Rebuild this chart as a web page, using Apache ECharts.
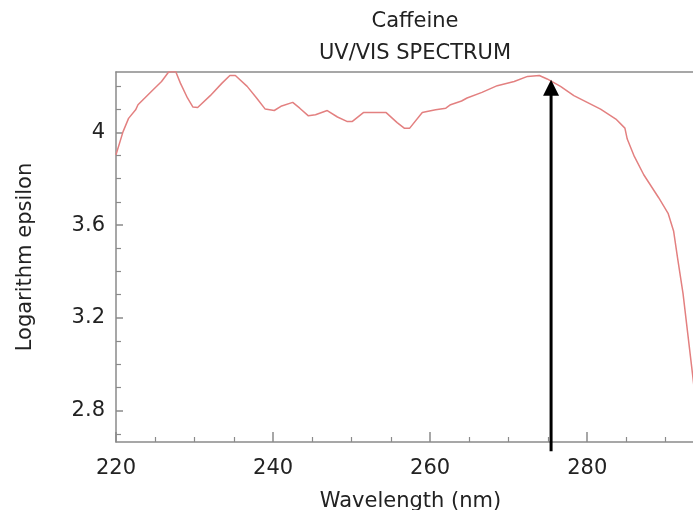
<!DOCTYPE html>
<html><head><meta charset="utf-8">
<script src="https://cdn.jsdelivr.net/npm/echarts@6/dist/echarts.min.js"></script>
<style>html,body{margin:0;padding:0;background:#fff}#c{width:693px;height:510px}</style>
</head><body><div id="c"></div>
<script>
const wavelength = [220, 220.9, 221.6, 222.5, 222.8, 224.5, 225.8, 226.7, 227.6, 228.2, 229.1, 229.8, 230.4, 232.0, 233.5, 234.5, 235.2, 236.7, 237.9, 239.0, 240.15, 241.0, 242.5, 243.4, 244.5, 245.4, 246.9, 248.2, 249.4, 250.1, 251.5, 254.4, 255.8, 256.7, 257.4, 259.0, 259.6, 260.7, 262.0, 262.6, 264.0, 264.7, 266.6, 268.55, 270.7, 272.4, 273.9, 274.9, 276.6, 278.3, 280.0, 281.7, 283.65, 284.8, 285.1, 286.0, 287.2, 289.1, 290.3, 291.0, 291.5, 292.2, 292.8, 293.3, 293.6, 294.2];
const logEpsilon = [3.903, 4.003, 4.06, 4.097, 4.119, 4.176, 4.219, 4.26, 4.262, 4.212, 4.148, 4.109, 4.107, 4.158, 4.212, 4.245, 4.245, 4.198, 4.148, 4.10, 4.094, 4.112, 4.129, 4.104, 4.071, 4.076, 4.094, 4.066, 4.047, 4.047, 4.085, 4.085, 4.042, 4.018, 4.018, 4.085, 4.09, 4.097, 4.104, 4.119, 4.135, 4.148, 4.172, 4.201, 4.219, 4.241, 4.245, 4.23, 4.198, 4.158, 4.129, 4.10, 4.057, 4.018, 3.971, 3.896, 3.817, 3.718, 3.651, 3.575, 3.46, 3.306, 3.133, 2.99, 2.903, 2.72];
const xMajorTicks = [220, 240, 260, 280];
const xMinorTicks = [225, 230, 235, 245, 250, 255, 265, 270, 275, 285, 290];
const yMajorTicks = [2.8, 3.2, 3.6, 4.0];
const yMinorTicks = [2.7, 2.9, 3.0, 3.1, 3.3, 3.4, 3.5, 3.7, 3.8, 3.9, 4.1, 4.2];
const arrowWavelength = 275.4;
const arrowFrom = 2.625;
const arrowTo = 4.227;

const FONT = 'DejaVu Sans';
const AXIS_COLOR = '#8a8a8a';
const TEXT_COLOR = '#222';
const X_MIN = 220, X_MAX = 295, Y_MIN = 2.665, Y_MAX = 4.26;

const chart = echarts.init(document.getElementById('c'), null, {renderer: 'canvas'});
const baseX = {type: 'value', min: X_MIN, max: X_MAX, gridIndex: 0, splitLine: {show: false}};
const baseY = {type: 'value', min: Y_MIN, max: Y_MAX, gridIndex: 0, splitLine: {show: false}};
chart.setOption({
  animation: false,
  backgroundColor: '#fff',
  title: {
    text: 'Caffeine\nUV/VIS SPECTRUM',
    left: 410, top: 1, textAlign: 'center',
    textStyle: {fontFamily: FONT, fontSize: 21, fontWeight: 'normal', color: TEXT_COLOR, lineHeight: 32}
  },
  grid: {left: 116, top: 72, width: 589, height: 370, containLabel: false, outerBoundsMode: 'none'},
  xAxis: [
    Object.assign({}, baseX, {
      position: 'bottom',
      name: 'Wavelength (nm)', nameLocation: 'middle', nameGap: 49,
      nameTextStyle: {fontFamily: FONT, fontSize: 21, color: TEXT_COLOR},
      axisLine: {show: true, onZero: false, lineStyle: {color: AXIS_COLOR, width: 1.5}},
      axisTick: {show: true, inside: true, length: 10, customValues: xMajorTicks, lineStyle: {color: AXIS_COLOR, width: 1.5}},
      axisLabel: {show: true, customValues: xMajorTicks, margin: 16, fontFamily: FONT, fontSize: 21, color: TEXT_COLOR}
    }),
    Object.assign({}, baseX, {
      position: 'bottom',
      axisLine: {show: false, onZero: false},
      axisTick: {show: true, inside: true, length: 5, customValues: xMinorTicks, lineStyle: {color: AXIS_COLOR, width: 1.2}},
      axisLabel: {show: false}
    }),
    Object.assign({}, baseX, {
      position: 'top',
      axisLine: {show: true, onZero: false, lineStyle: {color: AXIS_COLOR, width: 1.5}},
      axisTick: {show: false}, axisLabel: {show: false}
    })
  ],
  yAxis: [
    Object.assign({}, baseY, {
      position: 'left',
      name: 'Logarithm epsilon', nameLocation: 'middle', nameGap: 80, nameRotate: 90,
      nameTextStyle: {fontFamily: FONT, fontSize: 21, color: TEXT_COLOR},
      axisLine: {show: true, onZero: false, lineStyle: {color: AXIS_COLOR, width: 1.5}},
      axisTick: {show: true, inside: true, length: 7, customValues: yMajorTicks, lineStyle: {color: AXIS_COLOR, width: 1.5}},
      axisLabel: {show: true, customValues: yMajorTicks, margin: 11, fontFamily: FONT, fontSize: 21, color: TEXT_COLOR}
    }),
    Object.assign({}, baseY, {
      position: 'left',
      axisLine: {show: false, onZero: false},
      axisTick: {show: true, inside: true, length: 5, customValues: yMinorTicks, lineStyle: {color: AXIS_COLOR, width: 1.2}},
      axisLabel: {show: false}
    })
  ],
  series: [
    {
      type: 'line', xAxisIndex: 0, yAxisIndex: 0,
      data: wavelength.map((w, i) => [w, logEpsilon[i]]),
      showSymbol: false, symbol: 'none', smooth: false,
      lineStyle: {color: '#e38080', width: 1.5},
      clip: true, z: 2
    },
    {
      type: 'custom', xAxisIndex: 0, yAxisIndex: 0, clip: false, z: 5,
      data: [[arrowWavelength, arrowTo]],
      renderItem: function (params, api) {
        const p0 = api.coord([arrowWavelength, arrowFrom]);
        const p1 = api.coord([arrowWavelength, arrowTo]);
        const headLen = 16, headW = 8;
        return {
          type: 'group',
          children: [
            {type: 'line', shape: {x1: p0[0], y1: p0[1], x2: p1[0], y2: p1[1] + headLen - 2}, style: {stroke: '#000', lineWidth: 3}},
            {type: 'polygon', shape: {points: [[p1[0], p1[1]], [p1[0] - headW, p1[1] + headLen], [p1[0] + headW, p1[1] + headLen]]}, style: {fill: '#000'}}
          ]
        };
      }
    }
  ]
});
</script>
</body></html>
